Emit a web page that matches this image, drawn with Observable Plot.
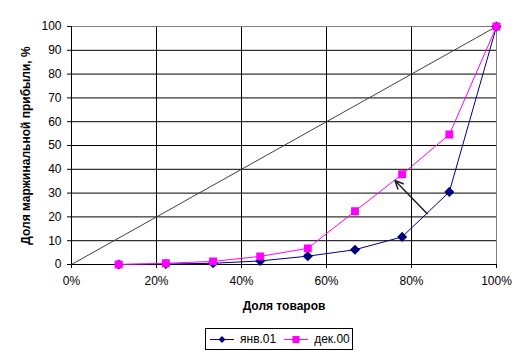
<!DOCTYPE html>
<html><head><meta charset="utf-8">
<script src="https://cdn.jsdelivr.net/npm/d3@7"></script>
<script src="https://cdn.jsdelivr.net/npm/@observablehq/plot@0.6"></script>
<style>
body{margin:0;background:#fff;font-family:"Liberation Sans",Arial,sans-serif;}
#wrap{position:relative;width:530px;height:360px;}
#legend{position:absolute;left:205px;top:328px;width:146px;height:20px;border:1px solid #000;box-sizing:content-box;font-size:12px;display:flex;align-items:center;}
#legend span{display:inline-flex;align-items:center;}
</style></head><body>
<div id="wrap"><div id="chart"></div><div id="legend"></div></div>
<script>
const shareX = [11.1, 22.2, 33.3, 44.4, 55.6, 66.7, 77.8, 88.9, 100];
const jan01 = [0, 0.2, 0.5, 1.5, 3.5, 6.2, 11.6, 30.5, 100];
const dec00 = [0, 0.5, 1.3, 3.4, 6.8, 22.4, 37.9, 54.6, 100];
const diagX = [0, 100];
const diagY = [0, 100];
const arrowFrom = [83.7, 21.3];
const arrowTo = [76.1, 35.3];
const xTicks = [0, 20, 40, 60, 80, 100];
const yTicks = [0, 10, 20, 30, 40, 50, 60, 70, 80, 90, 100];
const seriesNames = ["янв.01", "дек.00"];
const colors = ["#000080", "#FF00FF"];

const janData = shareX.map((x, i) => ({x, y: jan01[i]}));
const decData = shareX.map((x, i) => ({x, y: dec00[i]}));
const diag = diagX.map((x, i) => ({x, y: diagY[i]}));

const plot = Plot.plot({
  width: 530,
  height: 320,
  marginLeft: 71,
  marginRight: 34,
  marginTop: 26,
  marginBottom: 56,
  style: {fontFamily: '"Liberation Sans", Arial, sans-serif', fontSize: "12px", background: "#fff", color: "#000"},
  x: {domain: [0, 100]},
  y: {domain: [0, 100]},
  marks: [
    Plot.gridX(xTicks.slice(0, -1), {stroke: "#000", strokeOpacity: 1}),
    Plot.gridY(yTicks.slice(0, -1), {stroke: "#000", strokeOpacity: 1}),
    Plot.ruleY([100], {stroke: "#808080"}),
    Plot.ruleX([100], {stroke: "#808080"}),
    Plot.ruleX([0], {stroke: "#000"}),
    Plot.ruleY([0], {stroke: "#000"}),
    Plot.axisY(yTicks, {tickSize: 4, tickPadding: 6, fontSize: 12, label: "Доля маржинальной прибыли, %", labelAnchor: "center", labelArrow: "none", labelOffset: 50, fontWeight: "normal"}),
    Plot.axisX(xTicks, {tickSize: 4, tickPadding: 8, fontSize: 12, tickFormat: d => d + "%", label: "Доля товаров", labelAnchor: "center", labelArrow: "none", labelOffset: 45}),
    Plot.line(diag, {x: "x", y: "y", stroke: "#404040", strokeWidth: 1}),
    Plot.line(janData, {x: "x", y: "y", stroke: colors[0], strokeWidth: 1}),
    Plot.dot(janData, {x: "x", y: "y", symbol: "diamond2", r: 3.6, fill: colors[0], stroke: colors[0]}),
    Plot.line(decData, {x: "x", y: "y", stroke: colors[1], strokeWidth: 1}),
    Plot.dot(decData, {x: "x", y: "y", symbol: "square", r: 3.6, fill: colors[1], stroke: colors[1]}),
    Plot.arrow([{x1: arrowFrom[0], y1: arrowFrom[1], x2: arrowTo[0], y2: arrowTo[1]}], {x1: "x1", y1: "y1", x2: "x2", y2: "y2", stroke: "#222", strokeWidth: 1.5, headLength: 9, headAngle: 50})
  ]
});
document.getElementById("chart").appendChild(plot);
// bold axis titles
plot.querySelectorAll("g[aria-label='y-axis label'] text, g[aria-label='x-axis label'] text").forEach(t => t.setAttribute("font-weight", "bold"));

const legend = document.getElementById("legend");
const symbols = ["M11.5,3 L15,6.5 L11.5,10 L8,6.5 Z", "M8,3 L15,3 L15,10 L8,10 Z"];
seriesNames.forEach((name, i) => {
  const s = document.createElement("span");
  s.style.marginLeft = i === 0 ? "4px" : "8px";
  s.innerHTML = `<svg width="24" height="13" style="margin-right:6px"><line x1="0" y1="6.5" x2="24" y2="6.5" stroke="${colors[i]}" stroke-width="1"/><path d="${symbols[i]}" transform="translate(0.5,0)" fill="${colors[i]}"/></svg>${name}`;
  legend.appendChild(s);
});
</script>
</body></html>
